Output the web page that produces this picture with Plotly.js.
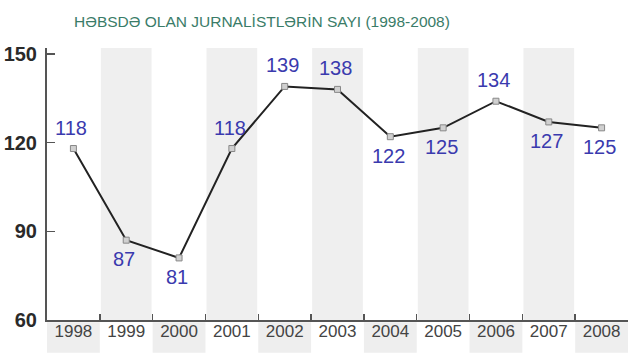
<!DOCTYPE html>
<html>
<head>
<meta charset="utf-8">
<script src="https://cdn.plot.ly/plotly-3.0.1.min.js"></script>
<style>html,body{margin:0;padding:0;background:#fff;}#chart{width:640px;height:360px;}</style>
</head>
<body>
<div id="chart"></div>
<script>
// Data
const years = ["1998","1999","2000","2001","2002","2003","2004","2005","2006","2007","2008"];
const journalists = [118, 87, 81, 118, 139, 138, 122, 125, 134, 127, 125];
const labelSide = ["above","below","below","above","above","above","below","below","above","below","below"];
const yTicks = [60, 90, 120, 150];
const titleText = "HƏBSDƏ OLAN JURNALİSTLƏRİN SAYI (1998-2008)";

const shapes = [];
years.forEach((y, i) => {
  if (i % 2 === 1) {
    shapes.push({type:'rect', xref:'x', yref:'paper', x0:i-0.48, x1:i+0.48, y0:0, y1:1,
      fillcolor:'#efefef', line:{width:0}, layer:'below'});
  } else {
    shapes.push({type:'rect', xref:'x', yref:'paper', x0:i-0.5, x1:i+0.5, y0:-0.12, y1:-0.008,
      fillcolor:'#eeeeee', line:{width:0}, layer:'below'});
  }
});

const annotations = years.map((y, i) => ({
  x: i, y: journalists[i], xref:'x', yref:'y',
  text: String(journalists[i]), showarrow:false,
  yshift: labelSide[i] === 'above' ? 21 : -19,
  xshift: -2,
  font:{family:'Liberation Sans, Arial, sans-serif', size:20, color:'#3a3aae'}
}));

const trace = {
  x: years.map((y,i)=>i), y: journalists, type:'scatter', mode:'lines+markers',
  line:{color:'#222222', width:2},
  marker:{symbol:'square', size:6, color:'#d0d0d0', line:{color:'#888', width:1}},
  hoverinfo:'none', cliponaxis:false
};

const layout = {
  width:640, height:360,
  margin:{l:47, r:12, t:48, b:40},
  paper_bgcolor:'#ffffff', plot_bgcolor:'rgba(0,0,0,0)',
  showlegend:false,
  title:{text:titleText, x:262/640, xanchor:'center', y:1-22/360, yanchor:'middle',
    font:{family:'Liberation Sans, Arial, sans-serif', size:15.5, color:'#3a7c68'}},
  xaxis:{
    type:'linear', range:[-0.5, 10.5], tickmode:'array',
    tickvals: years.map((y,i)=>i), ticktext: years,
    showgrid:false, zeroline:false, showline:true, linecolor:'#555', linewidth:2,
    ticks:'', tickfont:{family:'Liberation Sans, Arial, sans-serif', size:17, color:'#444'},
    ticklabelstandoff:-5, fixedrange:true
  },
  xaxis2:{
    overlaying:'x', matches:'x', range:[-0.5,10.5], tickmode:'array',
    tickvals: years.slice(1).map((y,i)=>i+0.5), showticklabels:false,
    ticks:'inside', ticklen:6, tickcolor:'#555', tickwidth:1.5, showgrid:false, zeroline:false
  },
  yaxis:{
    range:[60, 152], tickmode:'array', tickvals:yTicks, ticktext:yTicks.map(String),
    showgrid:false, zeroline:false, showline:true, linecolor:'#555', linewidth:2,
    ticks:'inside', ticklen:8, tickcolor:'#555', tickwidth:1.5,
    tickfont:{family:'Liberation Sans, Arial, sans-serif', size:20, color:'#2a2a2a', weight:'bold'},
    ticklabelstandoff:4, fixedrange:true
  },
  shapes: shapes,
  annotations: annotations
};

const helper = {x:[0], y:[60], xaxis:'x2', yaxis:'y', mode:'markers', marker:{opacity:0}, hoverinfo:'none'};

Plotly.newPlot('chart', [trace, helper], layout, {staticPlot:true});
</script>
</body>
</html>
